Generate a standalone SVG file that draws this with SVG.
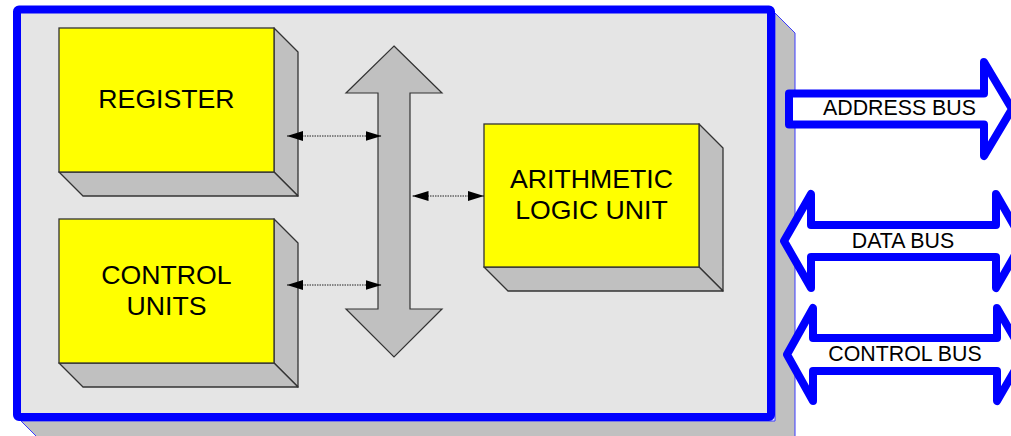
<svg xmlns="http://www.w3.org/2000/svg" width="1011" height="436" viewBox="0 0 1011 436">
<defs>
<style>
.face{fill:#ffff00;stroke:#333;stroke-width:1.3}
.side{fill:#c0c0c0;stroke:#333;stroke-width:1.3;stroke-linejoin:round}
.big{font-family:"Liberation Sans",Arial,sans-serif;font-size:26.67px;fill:#000;text-anchor:middle}
.bus{fill:#fff;stroke:#0000ff;stroke-width:8;stroke-linejoin:round}
.busText{font-family:"Liberation Sans",Arial,sans-serif;font-size:21.33px;fill:#000;text-anchor:middle}
.dot{stroke:#222;stroke-width:1;stroke-dasharray:1.5,1;fill:none}
</style>
<marker id="ah" markerWidth="16" markerHeight="10" refX="16" refY="5" orient="auto-start-reverse" markerUnits="userSpaceOnUse">
<path d="M0,0 L16,5 L0,10 Z" fill="#000"/>
</marker>
</defs>
<rect width="1011" height="436" fill="#fff"/>

<g id="cpu">
<polygon points="775,13 795,33 795,441 41,441 21,421 775,421" fill="#c0c0c0" stroke="#3a3aff" stroke-width="1"/>
<rect x="17" y="9.5" width="754" height="407.5" rx="2" fill="#e5e5e5" stroke="#0000ff" stroke-width="8"/>
</g>

<g id="internal-bus">
<polygon points="394,46 442,93 410,93 410,309 442,309 394,357 346,309 378,309 378,93 346,93" fill="#c0c0c0" stroke="#333" stroke-width="1.2" stroke-linejoin="miter"/>
</g>

<g id="register">
<polygon class="side" points="274,28 298,52 298,196 274,172"/>
<polygon class="side" points="59,172 274,172 298,196 83,196"/>
<rect class="face" x="59" y="28" width="215" height="144"/>
<text class="big" x="166.5" y="108">REGISTER</text>
</g>

<g id="control-units">
<polygon class="side" points="274,219 298,243 298,387 274,363"/>
<polygon class="side" points="59,363 274,363 298,387 83,387"/>
<rect class="face" x="59" y="219" width="215" height="144"/>
<text class="big" x="166.5" y="284">CONTROL</text>
<text class="big" x="166.5" y="315">UNITS</text>
</g>

<g id="alu">
<polygon class="side" points="699,124 723,148 723,291 699,267"/>
<polygon class="side" points="484,267 699,267 723,291 508,291"/>
<rect class="face" x="484" y="124" width="215" height="143"/>
<text class="big" x="591.5" y="188">ARITHMETIC</text>
<text class="big" x="591.5" y="219">LOGIC UNIT</text>
</g>

<g id="connectors">
<line class="dot" x1="287" y1="136" x2="381.5" y2="136" marker-start="url(#ah)" marker-end="url(#ah)"/>
<line class="dot" x1="287" y1="285" x2="381.5" y2="285" marker-start="url(#ah)" marker-end="url(#ah)"/>
<line class="dot" x1="412.5" y1="196" x2="484" y2="196" marker-start="url(#ah)" marker-end="url(#ah)"/>
</g>

<g id="address-bus">
<path class="bus" d="M789,93.5 L984,93.5 L984,62 L1012,109 L984,156 L984,124.5 L789,124.5 Z"/>
<text class="busText" x="899.5" y="115">ADDRESS BUS</text>
</g>

<g id="data-bus">
<path class="bus" d="M784,241 L811,194 L811,225 L996,225 L996,194 L1023,241 L996,288 L996,257 L811,257 L811,288 Z"/>
<text class="busText" x="903" y="248">DATA BUS</text>
</g>

<g id="control-bus">
<path class="bus" d="M787,354.5 L813,308 L813,338 L997,338 L997,308 L1024,354.5 L997,401 L997,371 L813,371 L813,401 Z"/>
<text class="busText" x="905" y="361">CONTROL BUS</text>
</g>
</svg>
